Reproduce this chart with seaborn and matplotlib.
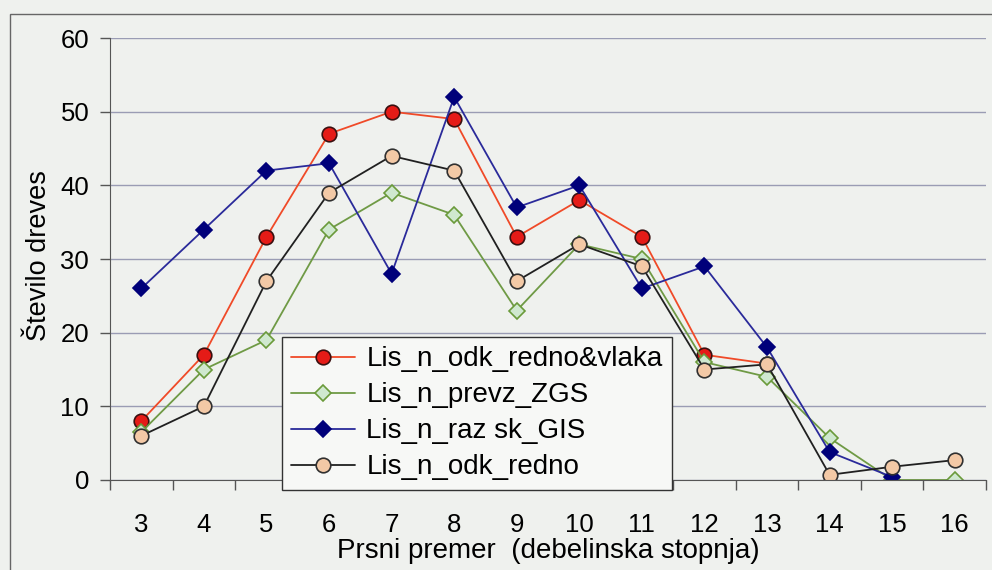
import matplotlib
matplotlib.use("Agg")
import matplotlib.pyplot as plt
import matplotlib.patches as mpatches
import seaborn as sns
import pandas as pd
import numpy as np

x_classes = [3, 4, 5, 6, 7, 8, 9, 10, 11, 12, 13, 14, 15, 16]
redno_vlaka = [8, 17, 33, 47, 50, 49, 33, 38, 33, 17, 15.8, None, None, None]
prevz_zgs = [6.5, 15, 19, 34, 39, 36, 23, 32, 30, 16, 14, 5.7, 0, 0]
razsk_gis = [26, 34, 42, 43, 28, 52, 37, 40, 26, 29, 18, 3.8, 0.4, None]
odk_redno = [6, 10, 27, 39, 44, 42, 27, 32, 29, 15, 15.7, 0.7, 1.8, 2.7]

series_names = ["Lis_n_odk_redno&vlaka", "Lis_n_prevz_ZGS", "Lis_n_raz sk_GIS", "Lis_n_odk_redno"]
series_vals = [redno_vlaka, prevz_zgs, razsk_gis, odk_redno]

sns.set_style("white")
plt.rcParams['font.family'] = ['Liberation Sans', 'DejaVu Sans']
plt.rcParams['text.color'] = 'black'
plt.rcParams['axes.labelcolor'] = 'black'
plt.rcParams['xtick.labelcolor'] = 'black'
plt.rcParams['ytick.labelcolor'] = 'black'

bg = "#eff1ee"
fig = plt.figure(figsize=(9.92, 5.70), dpi=100, facecolor=bg)
ax = fig.add_axes([0.1109, 0.1579, 0.8831, 0.7754])
ax.set_facecolor(bg)

styles = [
    dict(color="#f04a28", marker="o", markerfacecolor="#e51b17", markeredgecolor="#3a1010", markersize=10.5, lw=1.3),
    dict(color="#6f9a45", marker="D", markerfacecolor="#cfe8cf", markeredgecolor="#6a9a3a", markersize=8.5, lw=1.3),
    dict(color="#2a2a9a", marker="D", markerfacecolor="#00007a", markeredgecolor="#00007a", markersize=8.5, lw=1.3),
    dict(color="#202020", marker="o", markerfacecolor="#f3c9a6", markeredgecolor="#303030", markersize=10.5, lw=1.3),
]

for name, vals, st in zip(series_names, series_vals, styles):
    df = pd.DataFrame({"x": x_classes, "y": vals}).dropna()
    sns.lineplot(data=df, x="x", y="y", ax=ax, label=name, color=st["color"],
                 marker=st["marker"], markerfacecolor=st["markerfacecolor"],
                 markeredgecolor=st["markeredgecolor"], markeredgewidth=1.2,
                 markersize=st["markersize"], linewidth=st["lw"], legend=False)

ax.set_xlim(2.5, 16.5)
ax.set_ylim(0, 60)
ax.set_yticks([0, 10, 20, 30, 40, 50, 60])
ax.set_xticks(x_classes)
ax.set_xticks(np.arange(2.5, 17, 1), minor=True)
ax.yaxis.grid(True, color="#9a9cb4", lw=1.0)
ax.set_axisbelow(True)
for s in ["top", "right"]:
    ax.spines[s].set_visible(False)
ax.spines["left"].set_color("#555555")
ax.spines["bottom"].set_color("#555555")
ax.tick_params(axis="y", which="major", direction="out", length=7, width=1, color="#555555",
               labelsize=18.5, pad=8, left=True, labelcolor="black")
ax.tick_params(axis="x", which="major", length=0, labelsize=18.5, pad=24, labelcolor="black")
ax.tick_params(axis="x", which="minor", direction="out", length=7, width=1, color="#555555", bottom=True)

ax.set_xlabel("Prsni premer  (debelinska stopnja)", fontsize=20, color="black")
ax.set_ylabel("Število dreves", fontsize=19.5, color="black")
ax.xaxis.set_label_coords(0.5, -0.132)
ax.yaxis.set_label_coords(-0.066, 0.507)

leg = ax.legend(loc="lower left", bbox_to_anchor=(0.196, -0.023), fontsize=20,
                frameon=True, fancybox=False, edgecolor="#333333", facecolor="#f7f8f6",
                framealpha=1, handlelength=2.3, borderpad=0.35, labelspacing=0.36,
                handletextpad=0.4, borderaxespad=0)
leg.get_frame().set_linewidth(1.0)
for t in leg.get_texts():
    t.set_color("black")

rect = mpatches.Rectangle((10 / 992, -0.02), 1.0, (570 - 14) / 570 + 0.02, transform=fig.transFigure,
                          fill=False, edgecolor="#666666", lw=1.0)
fig.patches.append(rect)

fig.savefig("out.png", dpi=100, facecolor=bg)
